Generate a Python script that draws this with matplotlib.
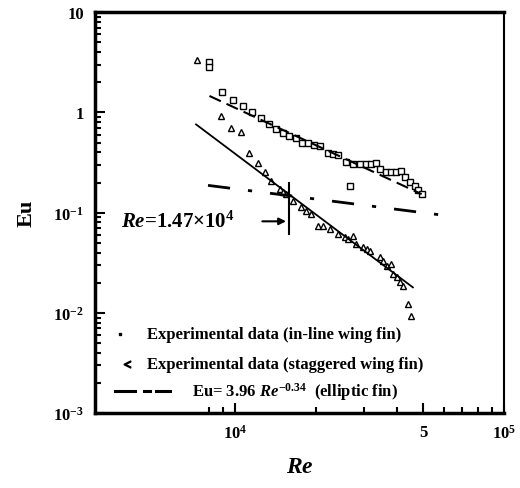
import numpy as np
import matplotlib
matplotlib.use("Agg")
import matplotlib.pyplot as plt
from matplotlib.ticker import FixedLocator, NullFormatter

plt.rcParams['font.family'] = ['Liberation Serif', 'DejaVu Serif']
plt.rcParams['font.weight'] = 'bold'
plt.rcParams['axes.labelweight'] = 'bold'
plt.rcParams['mathtext.fontset'] = 'custom'
plt.rcParams['mathtext.rm'] = 'Liberation Serif:bold'
plt.rcParams['mathtext.it'] = 'Liberation Serif:bold:italic'
plt.rcParams['mathtext.bf'] = 'Liberation Serif:bold'

# in-line wing fin (squares)
re_inline = [8000, 8000, 8920, 9770, 10710, 11540, 12400, 13310, 14100, 15010,
             15810, 16850, 17740, 18610, 19540, 20580, 22100, 23070, 24080, 25720,
             27400, 29020, 30740, 32090, 33500, 34460, 36500, 38110, 39780, 41530,
             42720, 44610, 46560, 47760, 49430, 26640]
eu_inline = [3.17, 2.83, 1.60, 1.33, 1.15, 0.999, 0.876, 0.769, 0.681, 0.625,
             0.583, 0.550, 0.501, 0.493, 0.471, 0.464, 0.392, 0.383, 0.377, 0.319,
             0.305, 0.305, 0.305, 0.305, 0.312, 0.272, 0.254, 0.252, 0.252, 0.258,
             0.226, 0.201, 0.184, 0.168, 0.153, 0.184]

# staggered wing fin (triangles)
re_stag = [7195, 8840, 9638, 10440, 11210, 12110, 12910, 13590, 14600, 14970,
           15460, 16320, 17590, 18360, 19160, 20230, 21120, 22430, 24030, 25510,
           26180, 27330, 28220, 29780, 30830, 31620, 34460, 35360, 36600, 38110,
           38540, 39890, 40930, 42000, 43840, 44980]
eu_stag = [3.31, 0.924, 0.692, 0.640, 0.398, 0.312, 0.252, 0.208, 0.172, 0.160,
           0.153, 0.131, 0.113, 0.104, 0.0966, 0.0738, 0.0738, 0.0685, 0.0610, 0.0569,
           0.0544, 0.0587, 0.0485, 0.0453, 0.0432, 0.0416, 0.0360, 0.0328, 0.0293, 0.0306,
           0.0243, 0.0227, 0.0203, 0.0185, 0.0122, 0.00928]

# fitted lines
re_fit_stag = [7130, 45800]
eu_fit_stag = [0.76, 0.018]
re_fit_inline = [8000, 49400]
eu_fit_inline = [1.46, 0.153]
re_ellip = np.array([7900, 60000])
eu_ellip = 3.96 * re_ellip ** -0.34

re_mark = 15800
eu_mark = [0.20, 0.061]

fig = plt.figure(figsize=(5.2, 4.89), dpi=100)
ax = fig.add_axes([0.183, 0.153, 0.786, 0.820])
ax.set_xscale('log')
ax.set_yscale('log')
ax.set_xlim(3000, 1e5)
ax.set_ylim(1e-3, 10)

ax.plot(re_inline, eu_inline, ls='none', marker='s', ms=5, mfc='white', mec='k', mew=1)
ax.plot(re_stag, eu_stag, ls='none', marker='^', ms=5, mfc='white', mec='k', mew=1)
ax.plot(re_fit_stag, eu_fit_stag, color='k', lw=1.3)
ax.plot(re_fit_inline, eu_fit_inline, color='k', lw=1.5, dashes=(6, 3))
ax.plot(re_ellip, eu_ellip, color='k', lw=2, dashes=(8, 6.5, 1.5, 6.5))

# Re = 1.47e4 marker
ax.plot([re_mark, re_mark], eu_mark, color='k', lw=1.5)
ax.annotate('', xy=(re_mark, 0.082), xytext=(12290, 0.082),
            arrowprops=dict(arrowstyle='-|>', lw=1.5, color='k', mutation_scale=10))
ax.text(3755, 0.082, r'$Re$=1.47$\times$10$^4$', fontsize=15, ha='left', va='center')

# legend drawn by hand
ax.plot([0.061], [0.197], transform=ax.transAxes, marker='s', ms=2, color='k')
ax.plot([0.078], [0.122], transform=ax.transAxes, marker='$<$', ms=5, color='k')
for x0, x1 in [(0.049, 0.098), (0.120, 0.135), (0.150, 0.183)]:
    ax.plot([x0, x1], [0.055, 0.055], transform=ax.transAxes, color='k', lw=2.2)
ax.text(0.127, 0.197, 'Experimental data (in-line wing fin)', transform=ax.transAxes,
        fontsize=12, va='center')
ax.text(0.127, 0.122, 'Experimental data (staggered wing fin)', transform=ax.transAxes,
        fontsize=12, va='center')
ax.text(0.237, 0.055, r'Eu= 3.96 $Re^{-0.34}$  (elliptic fin)', transform=ax.transAxes,
        fontsize=12, va='center')

# ticks
ax.yaxis.set_major_locator(FixedLocator([1e-3, 1e-2, 1e-1, 1, 10]))
ax.set_yticklabels([r'10$^{-3}$', r'10$^{-2}$', r'10$^{-1}$', '1', '10'])
ymin = [m * 10.0 ** e for e in range(-3, 1) for m in range(2, 10)]
ax.yaxis.set_minor_locator(FixedLocator(ymin))
ax.yaxis.set_minor_formatter(NullFormatter())

ax.xaxis.set_major_locator(FixedLocator([1e4, 5e4, 1e5]))
ax.set_xticklabels([r'10$^4$', '5', r'10$^5$'])
xmin = [8000, 9000] + [m * 1e4 for m in range(2, 10) if m != 5]
ax.xaxis.set_minor_locator(FixedLocator(xmin))
ax.xaxis.set_minor_formatter(NullFormatter())

ax.tick_params(which='both', direction='in', top=False, right=False, width=1.5)
ax.tick_params(which='major', length=7, labelsize=12, pad=8)
ax.tick_params(which='minor', length=4)

for side in ['left', 'bottom', 'top']:
    ax.spines[side].set_linewidth(2.5)
ax.spines['right'].set_linewidth(1.5)

ax.set_xlabel(r'$Re$', fontsize=17, labelpad=10)
ax.set_ylabel('Eu', fontsize=16, labelpad=12)

fig.savefig('out.png', dpi=100)
